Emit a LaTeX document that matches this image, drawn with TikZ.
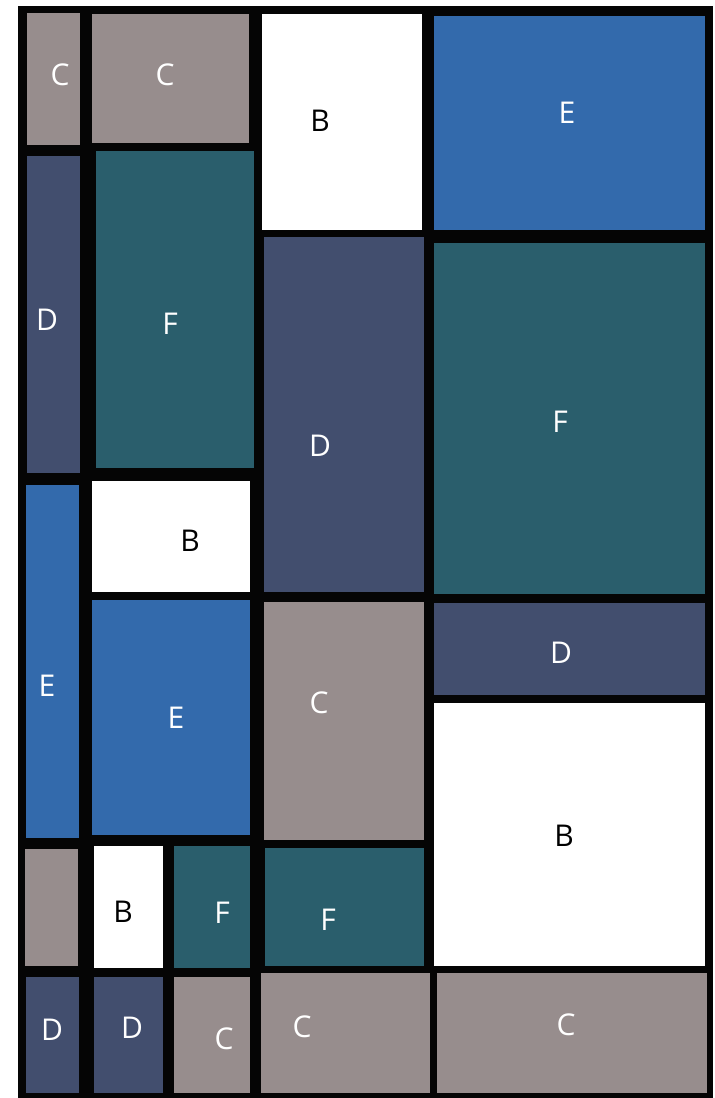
\documentclass[tikz,border=0pt]{standalone}
\usepackage{fontspec}
\setmainfont{Open Sans}
\definecolor{tileC}{RGB}{151,141,141}
\definecolor{tileD}{RGB}{66,78,110}
\definecolor{tileE}{RGB}{51,106,172}
\definecolor{tileF}{RGB}{42,94,108}
\definecolor{frame}{RGB}{5,5,5}
\newcommand{\tile}[5]{\fill[#5] (#1,#2) rectangle (#3,#4);}
\begin{document}
\begin{tikzpicture}[
    x=1pt, y=-1pt,
    lab/.style={font=\fontsize{30}{32}\selectfont, inner sep=0pt, anchor=center},
    labw/.style={lab, text=white},
    labk/.style={lab, text=black}
]
  \useasboundingbox (0,0) rectangle (715,1098);
  % --- black frame behind all tiles ---
  \fill[frame] (18,6) rectangle (713,1098);

  % --- column 1 (narrow) ---
  \tile{27}{13}{80}{145}{tileC}
  \tile{27}{156}{80}{473}{tileD}
  \tile{26}{485}{79}{838}{tileE}
  \tile{25}{849}{78}{966}{tileC}
  \tile{26}{977}{79}{1093}{tileD}

  % --- column 2 ---
  \tile{92}{14}{249}{143}{tileC}
  \tile{96}{151}{254}{468}{tileF}
  \tile{92}{481}{250}{592}{white}
  \tile{92}{600}{250}{835}{tileE}
  \tile{94}{846}{163}{968}{white}
  \tile{174}{846}{250}{968}{tileF}
  \tile{94}{977}{163}{1093}{tileD}
  \tile{174}{977}{250}{1093}{tileC}

  % --- column 3 ---
  \tile{262}{14}{422}{230}{white}
  \tile{264}{237}{424}{592}{tileD}
  \tile{264}{602}{424}{840}{tileC}
  \tile{265}{848}{424}{966}{tileF}
  \tile{261}{973}{430}{1093}{tileC}

  % --- column 4 (wide) ---
  \tile{434}{16}{705}{230}{tileE}
  \tile{434}{243}{705}{594}{tileF}
  \tile{434}{603}{705}{695}{tileD}
  \tile{434}{703}{705}{966}{white}
  \tile{437}{973}{707}{1093}{tileC}

  % --- labels ---
  \node[labw] (lC1) at (60,75)   {C};
  \node[labw] (lC2) at (165,75)  {C};
  \node[labk] (lB1) at (320,121) {B};
  \node[labw] (lE1) at (567,113) {E};
  \node[labw] (lD1) at (47,320)  {D};
  \node[labw] (lF1) at (170,324) {F};
  \node[labw] (lD2) at (320,446) {D};
  \node[labw] (lF2) at (560,422) {F};
  \node[labk] (lB2) at (190,541) {B};
  \node[labw] (lE2) at (47,686)  {E};
  \node[labw] (lE3) at (176,718) {E};
  \node[labw] (lC3) at (319,703) {C};
  \node[labw] (lD3) at (561,653) {D};
  \node[labk] (lB3) at (564,836) {B};
  \node[labk] (lB4) at (123,912) {B};
  \node[labw] (lF3) at (222,913) {F};
  \node[labw] (lF4) at (328,920) {F};
  \node[labw] (lD4) at (52,1030) {D};
  \node[labw] (lD5) at (132,1028) {D};
  \node[labw] (lC4) at (224,1039) {C};
  \node[labw] (lC5) at (302,1027) {C};
  \node[labw] (lC6) at (566,1025) {C};
\end{tikzpicture}
\end{document}
